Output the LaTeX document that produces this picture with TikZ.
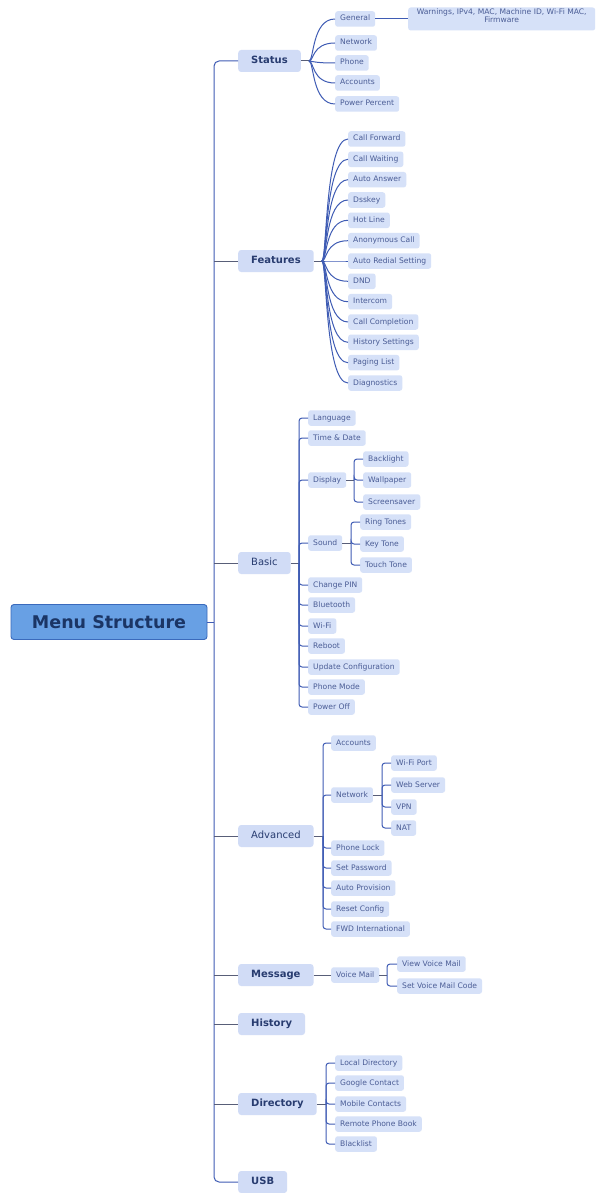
\documentclass[tikz,border=0pt]{standalone}
\usepackage{fontspec}
\setmainfont{DejaVu Sans}
\usetikzlibrary{calc}
\definecolor{boxfill}{HTML}{D6E1F8}
\definecolor{lvlfill}{HTML}{D1DCF6}
\definecolor{kidtext}{HTML}{4A5C95}
\definecolor{lvltext}{HTML}{283C70}
\definecolor{linec}{HTML}{3F5CB4}
\definecolor{stubc}{HTML}{585E78}
\definecolor{rootfill}{HTML}{68A0E4}
\definecolor{rootdraw}{HTML}{3A6ABC}
\definecolor{roottext}{HTML}{1B3565}
\tikzset{
 kid/.style={anchor=west, rounded corners=2.5pt, fill=boxfill, text=kidtext,
   font=\fontsize{7.6}{8}\selectfont, inner xsep=5pt, inner ysep=0pt,
   minimum height=15.5pt, text height=5.6pt, text depth=1.6pt},
 lvl/.style={anchor=west, rounded corners=3pt, fill=lvlfill, text=lvltext,
   font=\fontsize{10}{12}\selectfont, inner xsep=13pt, inner ysep=0pt,
   minimum height=22pt, text height=7.3pt, text depth=2pt},
 lvlb/.style={lvl, font=\fontsize{10}{12}\selectfont\bfseries},
 ln/.style={draw=linec, line width=1pt},
 brk/.style={ln, rounded corners=3pt},
 stub/.style={draw=stubc, line width=1pt},
}
\newcommand{\crv}[2]{\draw[ln] (#1) .. controls ($(#1)+(5,0)$) and ($(#1 |- #2.west)+(3,0)$) .. (#2.west);}
\newcommand{\brkto}[2]{\draw[brk] (#1) |- (#2.west);}
\begin{document}
\begin{tikzpicture}[x=1pt,y=-1pt]
\useasboundingbox (0,0) rectangle (596,1193);
\fill[white] (0,0) rectangle (596,1193);

% root
\node[rounded corners=3pt, fill=rootfill, draw=rootdraw, line width=0.9pt,
  text=roottext, font=\fontsize{17.5}{19}\selectfont\bfseries,
  minimum width=196pt, minimum height=35pt] (root) at (109,622) {Menu Structure};

% level 1
\node[lvlb] (st) at (238,61) {Status};
\node[lvlb] (ft) at (238,261) {Features};
\node[lvl]  (bs) at (238,563) {Basic};
\node[lvl]  (ad) at (238,836) {Advanced};
\node[lvlb] (ms) at (238,975) {Message};
\node[lvlb] (hi) at (238,1024) {History};
\node[lvlb] (di) at (238,1104) {Directory};
\node[lvlb] (us) at (238,1182) {USB};

% trunk
\coordinate (trt) at (214,61);
\coordinate (trb) at (214,1182);
\draw[ln, rounded corners=5pt] (st.west) -- (trt) -- (trb) -- (us.west);
\draw[ln] (root.east) -- (root.east -| trt);
\foreach \n in {ft,bs,ad,ms,hi,di} \draw[stub] (\n.west) -- (\n.west -| trt);

% Status
\node[kid] (s1) at (335,19) {General};
\node[kid] (s2) at (335,43) {Network};
\node[kid] (s3) at (335,63) {Phone};
\node[kid] (s4) at (335,83) {Accounts};
\node[kid] (s5) at (335,104) {Power Percent};
\node[kid, align=center, minimum width=187pt, minimum height=23pt, text height=11pt, text depth=3pt]
  (s1a) at (408,19) {Warnings, IPv4, MAC, Machine ID, Wi-Fi MAC,\\Firmware};
\draw[ln] (s1.east) -- (s1a.west);
\coordinate (sth) at ($(st.east)+(8,0)$);
\draw[stub] (st.east) -- (sth);
\foreach \k in {s1,s2,s3,s4,s5} {\crv{sth}{\k}}

% Features
\node[kid] (f1) at (348,139) {Call Forward};
\node[kid] (f2) at (348,159.3) {Call Waiting};
\node[kid] (f3) at (348,179.7) {Auto Answer};
\node[kid] (f4) at (348,200) {Dsskey};
\node[kid] (f5) at (348,220.3) {Hot Line};
\node[kid] (f6) at (348,240.7) {Anonymous Call};
\node[kid] (f7) at (348,261) {Auto Redial Setting};
\node[kid] (f8) at (348,281.3) {DND};
\node[kid] (f9) at (348,301.7) {Intercom};
\node[kid] (f10) at (348,322) {Call Completion};
\node[kid] (f11) at (348,342.3) {History Settings};
\node[kid] (f12) at (348,362.7) {Paging List};
\node[kid] (f13) at (348,383) {Diagnostics};
\coordinate (fth) at ($(ft.east)+(8,0)$);
\draw[stub] (ft.east) -- (fth);
\foreach \k in {f1,f2,f3,f4,f5,f6,f7,f8,f9,f10,f11,f12,f13} {\crv{fth}{\k}}

% Basic
\node[kid] (b1) at (308,418) {Language};
\node[kid] (b2) at (308,438) {Time \& Date};
\node[kid] (b3) at (308,480) {Display};
\node[kid] (b4) at (308,543) {Sound};
\node[kid] (b5) at (308,585) {Change PIN};
\node[kid] (b6) at (308,605) {Bluetooth};
\node[kid] (b7) at (308,626) {Wi-Fi};
\node[kid] (b8) at (308,646) {Reboot};
\node[kid] (b9) at (308,667) {Update Configuration};
\node[kid] (b10) at (308,687) {Phone Mode};
\node[kid] (b11) at (308,707) {Power Off};
\coordinate (bsh) at (299,563);
\draw[stub] (bs.east) -- (bsh);
\foreach \k in {b1,b2,b3,b4,b5,b6,b7,b8,b9,b10,b11} {\brkto{bsh}{\k}}

\node[kid] (d1) at (363,459) {Backlight};
\node[kid] (d2) at (363,480) {Wallpaper};
\node[kid] (d3) at (363,502) {Screensaver};
\coordinate (b3h) at (354,480);
\draw[stub] (b3.east) -- (b3h);
\foreach \k in {d1,d2,d3} {\brkto{b3h}{\k}}

\node[kid] (o1) at (360,522) {Ring Tones};
\node[kid] (o2) at (360,544) {Key Tone};
\node[kid] (o3) at (360,565) {Touch Tone};
\coordinate (b4h) at (351,543);
\draw[stub] (b4.east) -- (b4h);
\foreach \k in {o1,o2,o3} {\brkto{b4h}{\k}}

% Advanced
\node[kid] (a1) at (331,743) {Accounts};
\node[kid] (a2) at (331,795) {Network};
\node[kid] (a3) at (331,848) {Phone Lock};
\node[kid] (a4) at (331,868) {Set Password};
\node[kid] (a5) at (331,888) {Auto Provision};
\node[kid] (a6) at (331,909) {Reset Config};
\node[kid] (a7) at (331,929) {FWD International};
\coordinate (adh) at (323,836);
\draw[stub] (ad.east) -- (adh);
\foreach \k in {a1,a2,a3,a4,a5,a6,a7} {\brkto{adh}{\k}}

\node[kid] (n1) at (391,763) {Wi-Fi Port};
\node[kid] (n2) at (391,785) {Web Server};
\node[kid] (n3) at (391,807) {VPN};
\node[kid] (n4) at (391,828) {NAT};
\coordinate (a2h) at (382,795);
\draw[stub] (a2.east) -- (a2h);
\foreach \k in {n1,n2,n3,n4} {\brkto{a2h}{\k}}

% Message
\node[kid] (m1) at (331,975) {Voice Mail};
\draw[stub] (ms.east) -- (m1.west);
\node[kid] (v1) at (397,964) {View Voice Mail};
\node[kid] (v2) at (397,986) {Set Voice Mail Code};
\coordinate (m1h) at (387,975);
\draw[stub] (m1.east) -- (m1h);
\foreach \k in {v1,v2} {\brkto{m1h}{\k}}

% Directory
\node[kid] (r1) at (335,1063) {Local Directory};
\node[kid] (r2) at (335,1083) {Google Contact};
\node[kid] (r3) at (335,1104) {Mobile Contacts};
\node[kid] (r4) at (335,1124) {Remote Phone Book};
\node[kid] (r5) at (335,1144) {Blacklist};
\coordinate (dih) at (326,1104);
\draw[stub] (di.east) -- (dih);
\foreach \k in {r1,r2,r3,r4,r5} {\brkto{dih}{\k}}
\end{tikzpicture}
\end{document}
